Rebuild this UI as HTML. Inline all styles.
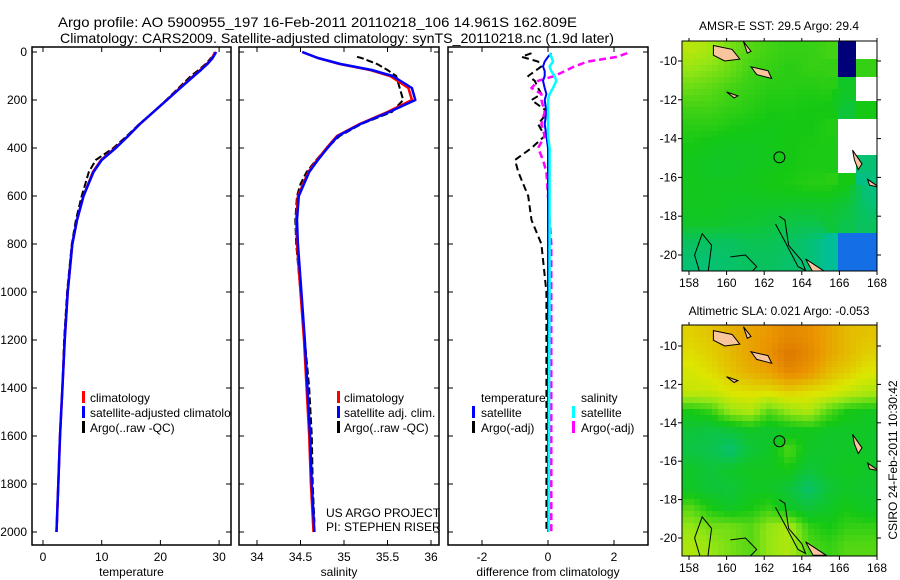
<!DOCTYPE html>
<html><head><meta charset="utf-8"><style>
html,body{margin:0;padding:0;background:#fff;}
svg{display:block;font-family:"Liberation Sans",sans-serif;}
</style></head><body>
<svg id="fig" width="900" height="580" viewBox="0 0 900 580">
<text x="58" y="27" font-size="14" textLength="519" lengthAdjust="spacingAndGlyphs">Argo profile: AO 5900955_197 16-Feb-2011 20110218_106 14.961S 162.809E</text>
<text x="60" y="43" font-size="14" textLength="554" lengthAdjust="spacingAndGlyphs">Climatology: CARS2009. Satellite-adjusted climatology: synTS_20110218.nc (1.9d later)</text>
<text x="779" y="30" font-size="12" text-anchor="middle">AMSR-E SST: 29.5 Argo: 29.4</text>
<text x="779" y="315" font-size="12" text-anchor="middle">Altimetric SLA: 0.021 Argo: -0.053</text>
<text transform="translate(897,460) rotate(-90)" font-size="12" text-anchor="middle">CSIRO 24-Feb-2011 10:30:42</text>
<g id="plots"></g>
</svg>
<script>
// ---------- profile data ----------
const depth = [0,25,50,75,100,150,200,250,300,350,400,450,500,600,700,800,1000,1200,1400,1600,1800,2000];
const tempClim = [29.3,28.8,27.9,26.8,25.6,23.3,21.1,18.8,16.5,14.5,12.3,9.9,8.5,6.9,5.8,5.0,4.2,3.7,3.3,2.9,2.6,2.3];
const tempSat = [29.5,28.9,28.0,26.9,25.7,23.4,21.1,18.8,16.5,14.5,12.4,10.0,8.6,6.9,5.8,5.0,4.2,3.7,3.3,2.9,2.6,2.3];
const salClim = [34.52,34.7,34.95,35.3,35.53,35.74,35.78,35.5,35.18,34.92,34.8,34.69,34.59,34.47,34.45,34.46,34.5,34.54,34.57,34.6,34.62,34.65];
const salSat = [34.52,34.7,34.96,35.32,35.56,35.78,35.82,35.52,35.19,34.93,34.81,34.7,34.6,34.48,34.46,34.47,34.51,34.55,34.58,34.61,34.63,34.66];
const argoDepth = [20,25,50,75,100,150,200,250,300,350,400,450,500,550,600,700,800,1000,1200,1400,1600,1800,1960];
const argoTemp = [29.0,28.6,27.7,26.5,25.2,23.1,21.0,18.8,16.4,14.3,12.0,9.0,7.8,7.2,6.6,5.6,4.9,4.1,3.6,3.3,2.9,2.6,2.4];
const argoSal = [35.15,35.2,35.38,35.5,35.6,35.64,35.68,35.55,35.2,34.95,34.8,34.68,34.57,34.5,34.46,34.44,34.45,34.5,34.55,34.6,34.63,34.64,34.66];
const diffDepth = [5,20,40,60,80,100,120,150,175,200,250,300,350,400,450,500,600,700,800,1000,1500,2000];
const tSatDiff = [0.1,0,-0.1,-0.15,-0.1,-0.1,-0.15,-0.1,-0.05,-0.1,-0.05,-0.1,-0.05,0,0,0,0,0,0,0,0,0];
const sSatDiff = [0.05,0.1,0.15,0.05,0.1,0.2,0.25,0.15,0.05,0,0,0,0,0.05,0.05,0.05,0.05,0.05,0.05,0.05,0.03,0.02];
const argoTDiff = [-0.5,-0.8,-0.3,-0.2,-0.4,-0.6,-0.4,-0.3,-0.2,-0.5,0,-0.3,-0.1,-0.5,-1.0,-0.9,-0.6,-0.5,-0.2,-0.05,-0.05,-0.05];
const argoSDiff = [2.4,2.1,1.2,0.8,0.5,0.2,-0.3,-0.5,-0.2,-0.2,-0.1,-0.2,-0.1,-0.3,-0.15,-0.05,0,0.05,0.1,0.1,0.1,0.1];
const depthTicks = [0,200,400,600,800,1000,1200,1400,1600,1800,2000];
const tempTicks = [0,10,20,30];
const salTicks = [34,34.5,35,35.5,36];
const diffTicks = [-2,0,2];
// ---------- map data (coarse field levels; -1 white, -2 navy, -3 blue) ----------
const sstGrid = [
[.62,.58,.5,.45,.42,.4,.4,.42,-2,-1],
[.55,.52,.48,.42,.4,.38,.4,.4,-2,.4],
[.48,.46,.42,.4,.38,.38,.37,.38,.3,-1],
[.42,.42,.4,.38,.36,.36,.35,.35,.25,.35],
[.38,.38,.36,.35,.34,.35,.35,.37,-1,-1],
[.35,.33,.32,.32,.33,.35,.36,.36,-1,-1],
[.33,.3,.3,.32,.33,.35,.36,.36,-1,.1],
[.33,.32,.32,.33,.35,.36,.38,.38,.35,.05],
[.32,.32,.3,.3,.3,.3,.3,.3,.25,.1],
[.3,.3,.28,.27,.25,.22,.2,.25,.2,.15],
[.15,.15,.15,.18,.18,.15,.1,0,-3,-3],
[.1,.1,.12,.15,.15,.12,.1,0,-3,-3]];
const slaGrid = [
[.75,.78,.82,.85,.88,.92,.9,.85,.8,.78],
[.72,.75,.8,.85,.9,.97,.92,.85,.8,.75],
[.68,.72,.78,.82,.85,.92,.88,.8,.75,.7],
[.65,.65,.7,.72,.72,.75,.72,.7,.65,.6],
[.35,.4,.55,.6,.45,.55,.6,.45,.35,.32],
[.25,.22,.25,.3,.28,.3,.33,.3,.3,.3],
[.22,.2,.1,.25,.3,.45,.3,.28,.3,.3],
[.3,.25,.3,.32,.32,.35,.25,.3,.32,.3],
[.3,.25,.25,.3,.3,.25,.12,.25,.3,.28],
[.45,.35,.3,.35,.4,.3,.25,.3,.35,.3],
[.55,.5,.5,.45,.55,.6,.4,.35,.4,.4],
[.6,.55,.5,.45,.55,.6,.45,.4,.45,.45]];
const lonTicks = [158,160,162,164,166,168];
const latTicks = [-10,-12,-14,-16,-18,-20];
const argoLon = 162.809, argoLat = -14.961;

const NS='http://www.w3.org/2000/svg';
const root=document.getElementById('plots');
function mk(tag,attrs,parent){const e=document.createElementNS(NS,tag);for(const k in attrs)e.setAttribute(k,attrs[k]);(parent||root).appendChild(e);return e;}
function txt(x,y,s,size,anchor,parent){const t=mk('text',{x:x,y:y,'font-size':size,'text-anchor':anchor||'start'},parent);t.textContent=s;return t;}

const Y0=52,Y1=532;
const yD=d=>Y0+(Y1-Y0)*d/2000;
const panels=[
 {x0:32,x1:231,f:v=>43+(v)*5.87,ticks:tempTicks,label:'temperature',name:'temperature-panel'},
 {x0:239,x1:439,f:v=>257+(v-34)*87,ticks:salTicks,label:'salinity',name:'salinity-panel'},
 {x0:448,x1:648,f:v=>548+v*33,ticks:diffTicks,label:'difference from climatology',name:'difference-panel'}];
const TOP=47,BOT=545;
panels.forEach((p,i)=>{
 const g=mk('g',{});
 
 
 const cp=mk('clipPath',{id:'cp'+i},g);mk('rect',{x:p.x0,y:TOP,width:p.x1-p.x0,height:BOT-TOP},cp);
 p.g=g;
 const lg=mk('g',{'clip-path':'url(#cp'+i+')'},g);p.lg=lg;
 mk('rect',{x:p.x0,y:TOP,width:p.x1-p.x0,height:BOT-TOP,fill:'none',stroke:'#000','stroke-width':1.5},g);
 p.ticks.forEach(t=>{const x=p.f(t);mk('line',{x1:x,x2:x,y1:BOT,y2:BOT-5,stroke:'#000'},g);mk('line',{x1:x,x2:x,y1:TOP,y2:TOP+5,stroke:'#000'},g);
  const tl=txt(x,561,String(t),12,'middle',g);});
 depthTicks.forEach(d=>{const y=yD(d);mk('line',{x1:p.x0,x2:p.x0+5,y1:y,y2:y,stroke:'#000'},g);mk('line',{x1:p.x1,x2:p.x1-5,y1:y,y2:y,stroke:'#000'},g);
  if(i==0){const tl=txt(27,y+4,String(d),12,'end',g);}});
 const xl=txt((p.x0+p.x1)/2,576,p.label,12,'middle',g);
 
 
});
function line(p,ds,vs,color,dash,name,w){
 const pts=ds.map((d,k)=>p.f(vs[k]).toFixed(1)+','+yD(d).toFixed(1)).join(' ');
 const a={points:pts,fill:'none',stroke:color,'stroke-width':w||2.5,'stroke-linejoin':'round'};
 if(dash)a['stroke-dasharray']=dash;
 const e=mk('polyline',a,p.lg);
 
 
}
const P=panels;
line(P[0],argoDepth,argoTemp,'#000','7,3','argo-temperature-line',2);
line(P[0],depth,tempClim,'#f00',null,'climatology-temperature-line');
line(P[0],depth,tempSat,'#00f',null,'satellite-temperature-line');
line(P[1],argoDepth,argoSal,'#000','7,3','argo-salinity-line',2);
line(P[1],depth,salClim,'#f00',null,'climatology-salinity-line');
line(P[1],depth,salSat,'#00f',null,'satellite-salinity-line');
line(P[2],diffDepth,argoTDiff,'#000','7,4','argo-temperature-diff-line',2);
line(P[2],diffDepth,argoSDiff,'#f0f','7,4','argo-salinity-diff-line',2.5);
line(P[2],diffDepth,tSatDiff,'#00f',null,'satellite-temperature-diff-line',2);
line(P[2],diffDepth,sSatDiff,'#0ff',null,'satellite-salinity-diff-line',2.5);

function legend(p,x,items,textX){
 items.forEach((it,k)=>{const y=397+k*15;
  if(it.c){const m=mk('rect',{x:x,y:y-6,width:3,height:12,fill:it.c},p.lg);}
  const t=txt(textX,y+5,it.t,12,'start',p.lg);
  
  });
}
legend(P[0],82,[{c:'#f00',t:'climatology'},{c:'#00f',t:'satellite-adjusted climatology'},{c:'#000',t:'Argo(..raw -QC)'}],90);
legend(P[1],337,[{c:'#f00',t:'climatology'},{c:'#00f',t:'satellite adj. clim.'},{c:'#000',t:'Argo(..raw -QC)'}],344);
legend(P[2],472,[{t:'temperature'},{c:'#00f',t:'satellite'},{c:'#000',t:'Argo(-adj)'}],481);
legend(P[2],572,[{t:'salinity'},{c:'#0ff',t:'satellite'},{c:'#f0f',t:'Argo(-adj)'}],581);
const c1=txt(326,517,'US ARGO PROJECT',12,'start',P[1].g);
const c2=txt(326,531,'PI: STEPHEN RISER',12,'start',P[1].g);

// ---------- maps ----------
const stops=[[0,[0,190,150]],[0.35,[20,200,20]],[0.55,[150,230,20]],[0.7,[220,230,0]],[0.88,[235,150,0]],[1,[215,110,0]]];
function cmap(v){if(v<=-2.5)return 'rgb(20,110,230)';if(v<=-1.5)return 'rgb(0,0,120)';if(v<0)return '#fff';
 for(let i=1;i<stops.length;i++){if(v<=stops[i][0]){const a=stops[i-1],b=stops[i],t=(v-a[0])/(b[0]-a[0]);
  return 'rgb('+a[1].map((c,j)=>Math.round(c+(b[1][j]-c)*t)).join(',')+')';}}return 'rgb(215,110,0)';}
function drawMap(grid,box,name,lat10,pxDeg){
 const g=mk('g',{});
 
 
 const lonX=l=>689+(l-158)*18.8, latY=l=>lat10+(-10-l)*pxDeg;
 const cp=mk('clipPath',{id:'c'+name},g);mk('rect',{x:box[0],y:box[1],width:box[2]-box[0],height:box[3]-box[1]},cp);
 const ig=mk('g',{'clip-path':'url(#c'+name+')'},g);
 const R=grid.length,C=grid[0].length,cs=6;
 const W=box[2]-box[0],H=box[3]-box[1];
 for(let yy=0;yy<H;yy+=cs)for(let xx=0;xx<W;xx+=cs){
  const gx=Math.min(C-1,(xx+cs/2)/W*C-0.5),gy=Math.min(R-1,(yy+cs/2)/H*R-0.5);
  const ix=Math.max(0,Math.floor(gx)),iy=Math.max(0,Math.floor(gy));
  const nx=Math.min(C-1,ix+1),ny=Math.min(R-1,iy+1);
  const fx=Math.max(0,gx-ix),fy=Math.max(0,gy-iy);
  const vs=[grid[iy][ix],grid[iy][nx],grid[ny][ix],grid[ny][nx]];
  let v;
  if(vs.some(q=>q<0)){v=grid[Math.round(Math.max(0,gy))][Math.round(Math.max(0,gx))];}
  else v=vs[0]*(1-fx)*(1-fy)+vs[1]*fx*(1-fy)+vs[2]*(1-fx)*fy+vs[3]*fx*fy;
  mk('rect',{x:box[0]+xx,y:box[1]+yy,width:cs+0.5,height:cs+0.5,fill:cmap(v)},ig);
 }
 const isl=[[[159.3,-9.2],[160.3,-9.4],[160.7,-9.9],[159.9,-10],[159.3,-9.7]],[[161.3,-10.3],[162.2,-10.5],[162.4,-10.9],[161.6,-10.7]],[[160,-11.6],[160.6,-11.8],[160.4,-11.9]],[[166.7,-14.6],[167.2,-15.3],[167,-15.6],[166.8,-15.1]],[[167.5,-16.1],[168.1,-16.5],[167.6,-16.4]],[[164.2,-20.2],[165.3,-20.9],[164.6,-20.9]],[[160.9,-9],[161.3,-9.5],[161.1,-9.6]]];
 isl.forEach(poly=>{const e=mk('polygon',{points:poly.map(q=>lonX(q[0]).toFixed(1)+','+latY(q[1]).toFixed(1)).join(' '),fill:'#f9c59c',stroke:'#000','stroke-width':1},ig);});
 const ctr=[[[158.6,-21],[158.3,-20],[158.7,-18.9],[159.2,-19.5],[159,-21]],[[162.8,-18],[163.1,-18.2],[163.3,-19.5],[164,-20.3],[164.2,-20.8],[163.8,-20.6],[163.1,-19.3],[162.6,-18.4]],[[160.2,-20.1],[161,-20],[161.6,-20.6],[161.2,-21]]];
 ctr.forEach(poly=>{mk('polyline',{points:poly.map(q=>lonX(q[0]).toFixed(1)+','+latY(q[1]).toFixed(1)).join(' '),fill:'none',stroke:'#000','stroke-width':1},ig);});
 const mark=mk('circle',{cx:lonX(argoLon),cy:latY(argoLat),r:5.5,fill:'none',stroke:'#000','stroke-width':1},ig);
 
 
 mk('rect',{x:box[0],y:box[1],width:W,height:H,fill:'none',stroke:'#000','stroke-width':1},g);
 lonTicks.forEach(l=>{const x=lonX(l);mk('line',{x1:x,x2:x,y1:box[3],y2:box[3]+4,stroke:'#000'},g);mk('line',{x1:x,x2:x,y1:box[1],y2:box[1]-3,stroke:'#000'},g);
  const t=txt(x,box[3]+16,String(l),12,'middle',g);});
 latTicks.forEach(l=>{const y=latY(l);mk('line',{x1:box[0],x2:box[0]-4,y1:y,y2:y,stroke:'#000'},g);mk('line',{x1:box[2],x2:box[2]+4,y1:y,y2:y,stroke:'#000'},g);
  const t=txt(box[0]-5,y+4,String(l),12,'end',g);});
}
drawMap(sstGrid,[682,41,877,271],'sst-map',61,19.4);
drawMap(slaGrid,[682,325,877,556],'sla-map',346,19.2);
</script>
</body></html>
